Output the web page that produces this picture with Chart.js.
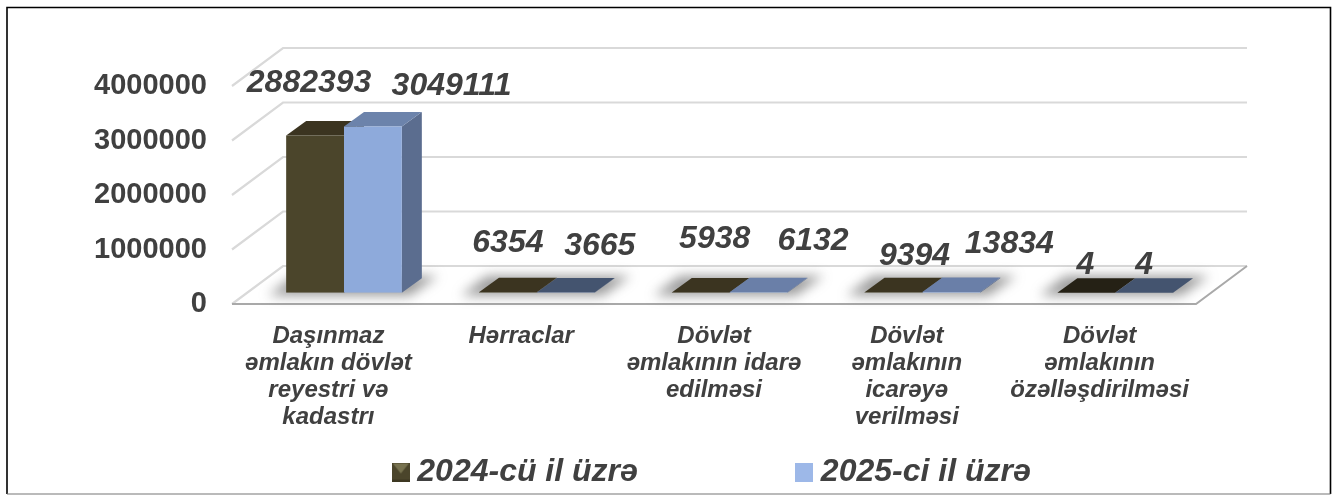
<!DOCTYPE html>
<html>
<head>
<meta charset="utf-8">
<title>Əmlak xidmətləri</title>
<script src="https://cdn.jsdelivr.net/npm/chart.js@4"></script>
<style>
  html, body { margin: 0; padding: 0; background: #fff; }
  canvas { display: block; }
</style>
</head>
<body>
<canvas id="chart" width="1341" height="495"></canvas>
<script>
// Chart data
const categories = [
  ['Daşınmaz', 'əmlakın dövlət', 'reyestri və', 'kadastrı'],
  ['Hərraclar'],
  ['Dövlət', 'əmlakının idarə', 'edilməsi'],
  ['Dövlət', 'əmlakının', 'icarəyə', 'verilməsi'],
  ['Dövlət', 'əmlakının', 'özəlləşdirilməsi']
];
const seriesNames = ['2024-cü il üzrə', '2025-ci il üzrə'];
const values2024 = [2882393, 6354, 5938, 9394, 4];
const values2025 = [3049111, 3665, 6132, 13834, 4];
const yMax = 4000000;
const yStep = 1000000;

// Colours
const textColor = '#404040';
const frontColors = ['#4b452b', '#8eaadb'];
const topColors = [
  ['#3b3420', '#3b3420', '#3b3420', '#3b3420', '#252115'],
  ['#6c83ab', '#44546f', '#6a7fa8', '#6a7fa8', '#44546f']
];
const sideColors = ['#38331f', '#5b6d8f'];

// Oblique projection: wall depth, and where the bars stand inside it
const wallDepth = { x: 51, y: -38 };
const barShift = { x: 15.6, y: -11.3 };
const barDepth = { x: 20, y: -14.5 };

// Hand placed data labels, offset from each bar top
const labelOffsets = [
  [[-6, -52], [0, -49], [14, -53], [21, -36.5], [-1, -28]],
  [[78.6, -40.5], [34, -46], [54.5, -51], [58, -48], [0, -28]]
];

function swatch(draw) {
  const c = document.createElement('canvas');
  c.width = 18;
  c.height = 19;
  draw(c.getContext('2d'));
  return c;
}

const swatches = [
  swatch(ctx => {
    ctx.fillStyle = '#4b452b';
    ctx.fillRect(0, 0, 18, 19);
    ctx.fillStyle = '#77724f';
    ctx.beginPath();
    ctx.moveTo(1, 1);
    ctx.lineTo(17, 1);
    ctx.lineTo(9, 11);
    ctx.closePath();
    ctx.fill();
    ctx.fillStyle = '#3d3822';
    ctx.fillRect(0, 17, 18, 2);
  }),
  swatch(ctx => {
    ctx.fillStyle = '#9db8e8';
    ctx.fillRect(0, 0, 18, 19);
  })
];

function poly(ctx, pts, fill) {
  ctx.beginPath();
  pts.forEach((p, i) => (i ? ctx.lineTo(p[0], p[1]) : ctx.moveTo(p[0], p[1])));
  ctx.closePath();
  ctx.fillStyle = fill;
  ctx.fill();
}

function line(ctx, pts, color, width) {
  ctx.beginPath();
  pts.forEach((p, i) => (i ? ctx.lineTo(p[0], p[1]) : ctx.moveTo(p[0], p[1])));
  ctx.strokeStyle = color;
  ctx.lineWidth = width;
  ctx.stroke();
}

// Frame, back wall, floor, bar shadows and the depth faces of the bars
const scenePlugin = {
  id: 'scene',
  afterLayout(chart) {
    const legend = chart.legend;
    legend.left = 90;
    legend.right = 1341;
    legend.top = 290;
  },
  beforeDatasetsDraw(chart) {
    const ctx = chart.ctx;
    const area = chart.chartArea;
    const yScale = chart.scales.y;

    ctx.save();
    line(ctx, [[7, 494], [7, 7.5], [1330.5, 7.5], [1330.5, 494]], '#000', 1.6);
    line(ctx, [[7, 494], [1330.5, 494]], '#777', 1.2);

    yScale.ticks.forEach(t => {
      const y = yScale.getPixelForValue(t.value);
      line(ctx, [
        [area.left, y],
        [area.left + wallDepth.x, y + wallDepth.y],
        [area.right + wallDepth.x, y + wallDepth.y]
      ], '#d9d9d9', 2.2);
    });
    line(ctx, [
      [area.left, area.bottom],
      [area.right, area.bottom],
      [area.right + wallDepth.x, area.bottom + wallDepth.y]
    ], '#a9a9a9', 2);

    const bars0 = chart.getDatasetMeta(0).data;
    const bars1 = chart.getDatasetMeta(1).data;

    ctx.filter = 'blur(6px)';
    bars0.forEach((b, i) => {
      const left = b.x - b.width / 2 + barShift.x;
      const right = bars1[i].x + bars1[i].width / 2 + barShift.x;
      const base = area.bottom + barShift.y;
      poly(ctx, [
        [left - 18, base + 3],
        [left + 8, base - 17],
        [right + 36, base - 17],
        [right + 8, base + 3]
      ], 'rgba(90,90,90,0.6)');
    });
    ctx.filter = 'none';

    [bars0, bars1].forEach((bars, s) => {
      bars.forEach((b, i) => {
        const x0 = b.x - b.width / 2 + barShift.x;
        const x1 = b.x + b.width / 2 + barShift.x;
        const top = b.y + barShift.y;
        const base = b.base + barShift.y;
        const dx = barDepth.x;
        const dy = barDepth.y;
        poly(ctx, [[x1, top], [x1 + dx, top + dy], [x1 + dx, base + dy], [x1, base]], sideColors[s]);
        poly(ctx, [[x0, top], [x0 + dx, top + dy], [x1 + dx, top + dy], [x1, top]], topColors[s][i]);
      });
    });
    ctx.restore();

    ctx.save();
    ctx.translate(barShift.x, barShift.y);
  },
  afterDatasetsDraw(chart) {
    const ctx = chart.ctx;
    ctx.restore();

    ctx.save();
    ctx.font = 'italic bold 32px "Liberation Sans", Arial, sans-serif';
    ctx.fillStyle = textColor;
    ctx.textAlign = 'center';
    ctx.textBaseline = 'middle';
    [values2024, values2025].forEach((vals, s) => {
      const bars = chart.getDatasetMeta(s).data;
      vals.forEach((v, i) => {
        const off = labelOffsets[s][i];
        ctx.fillText(String(v), bars[i].x + barShift.x + off[0], bars[i].y + barShift.y + off[1]);
      });
    });
    ctx.restore();
  }
};

new Chart(document.getElementById('chart'), {
  type: 'bar',
  data: {
    labels: categories,
    datasets: [
      { label: seriesNames[0], data: values2024, backgroundColor: frontColors[0], borderWidth: 0 },
      { label: seriesNames[1], data: values2025, backgroundColor: frontColors[1], borderWidth: 0 }
    ]
  },
  options: {
    responsive: false,
    animation: false,
    layout: { autoPadding: false, padding: { right: 145, top: 86 } },
    datasets: { bar: { barPercentage: 1, categoryPercentage: 0.6 } },
    scales: {
      x: {
        grid: { display: false },
        border: { display: false },
        afterFit: s => { s.height = 151; },
        ticks: {
          autoSkip: false,
          maxRotation: 0,
          minRotation: 0,
          padding: 11,
          color: textColor,
          font: { family: '"Liberation Sans", Arial, sans-serif', size: 24, weight: 'bold', style: 'italic', lineHeight: 1.125 }
        }
      },
      y: {
        min: 0,
        max: yMax,
        grid: { display: false },
        border: { display: false },
        afterFit: s => { s.width = 232; },
        ticks: {
          stepSize: yStep,
          padding: 17,
          color: textColor,
          font: { family: '"Liberation Sans", Arial, sans-serif', size: 29, weight: 'bold' },
          callback: v => String(v)
        }
      }
    },
    plugins: {
      tooltip: { enabled: false },
      legend: {
        position: 'bottom',
        maxHeight: 40,
        labels: {
          usePointStyle: true,
          boxWidth: 1,
          boxHeight: 19,
          padding: 166,
          color: textColor,
          font: { family: '"Liberation Sans", Arial, sans-serif', size: 32, weight: 'bold', style: 'italic' },
          generateLabels: chart => Chart.defaults.plugins.legend.labels.generateLabels(chart)
            .map((item, i) => Object.assign(item, { pointStyle: swatches[i] }))
        }
      }
    }
  },
  plugins: [scenePlugin]
});
</script>
</body>
</html>
